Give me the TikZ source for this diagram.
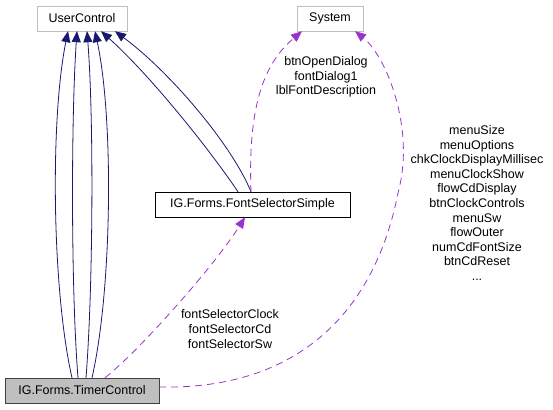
\documentclass[tikz,border=0pt]{standalone}
\usepackage{fontspec}
\setmainfont{Liberation Sans}
\usetikzlibrary{arrows.meta}
\definecolor{edgeblue}{HTML}{191970}
\definecolor{edgepurple}{HTML}{9A32CD}
\definecolor{boxgray}{HTML}{BFBFBF}
\definecolor{boxborder}{HTML}{404040}

\begin{document}
\begin{tikzpicture}[
  x=1pt, y=-1pt,
  every node/.style={font=\fontsize{12.5}{14.6}\selectfont},
  cls/.style={draw, inner sep=0pt, minimum height=25pt, align=center},
  extcls/.style={cls, draw=boxgray, fill=white},
  inherit/.style={-{Triangle[length=11pt,width=9pt]}, draw=edgeblue, line width=0.8pt},
  usage/.style={-{Triangle[length=11pt,width=9pt]}, draw=edgepurple, line width=0.8pt, dash pattern=on 7pt off 5pt},
  elabel/.style={align=center, inner sep=0pt}
]
\useasboundingbox (0,0) rectangle (553,409);

% classes
\node[extcls, minimum width=90pt] (user) at (82,18.5) {UserControl};
\node[extcls, minimum width=66pt] (system) at (330,18.5) {System};
\node[cls, fill=white, minimum width=195pt] (fontsel) at (252.5,204.5) {IG.Forms.FontSelectorSimple};
\node[cls, draw=boxborder, fill=boxgray, minimum width=154pt] (timer) at (82,390.5) {IG.Forms.TimerControl};

% inheritance
\draw[inherit] ([xshift=-10pt]timer.north) .. controls (52,290) and (50,120) .. ([xshift=-14pt]user.south);
\draw[inherit] ([xshift=-4pt]timer.north) .. controls (71,290) and (71,120) .. ([xshift=-5pt]user.south);
\draw[inherit] ([xshift=4pt]timer.north) .. controls (93,290) and (94,120) .. ([xshift=5pt]user.south);
\draw[inherit] ([xshift=10pt]timer.north) .. controls (112,290) and (114,120) .. ([xshift=13pt]user.south);
\draw[inherit] ([xshift=-14.5pt]fontsel.north) .. controls (210,150) and (150,75) .. ([xshift=19pt]user.south);
\draw[inherit] ([xshift=-1.5pt]fontsel.north) .. controls (232,145) and (170,72) .. ([xshift=33pt]user.south);

% usage
\draw[usage] ([xshift=-1.5pt]fontsel.north) .. controls (248,110) and (262,65) .. ([xshift=-28pt]system.south);
\draw[usage] ([xshift=23pt]timer.north) .. controls (140,350) and (215,265) .. ([xshift=-7.5pt]fontsel.south);
\draw[usage] ([yshift=3.5pt]timer.east) .. controls (300,390) and (375,310) .. (398,193)
  .. controls (416,127) and (385,55) .. ([xshift=25pt]system.south);

% labels
\node[elabel] (lblsystem) at (326,77) {btnOpenDialog\\fontDialog1\\lblFontDescription};
\node[elabel] (lblfontsel) at (230,329) {fontSelectorClock\\fontSelectorCd\\fontSelectorSw};
\node[elabel] (lbltimer) at (477,203) {menuSize\\menuOptions\\chkClockDisplayMillisec\\menuClockShow\\flowCdDisplay\\btnClockControls\\menuSw\\flowOuter\\numCdFontSize\\btnCdReset\\...};
\end{tikzpicture}
\end{document}
